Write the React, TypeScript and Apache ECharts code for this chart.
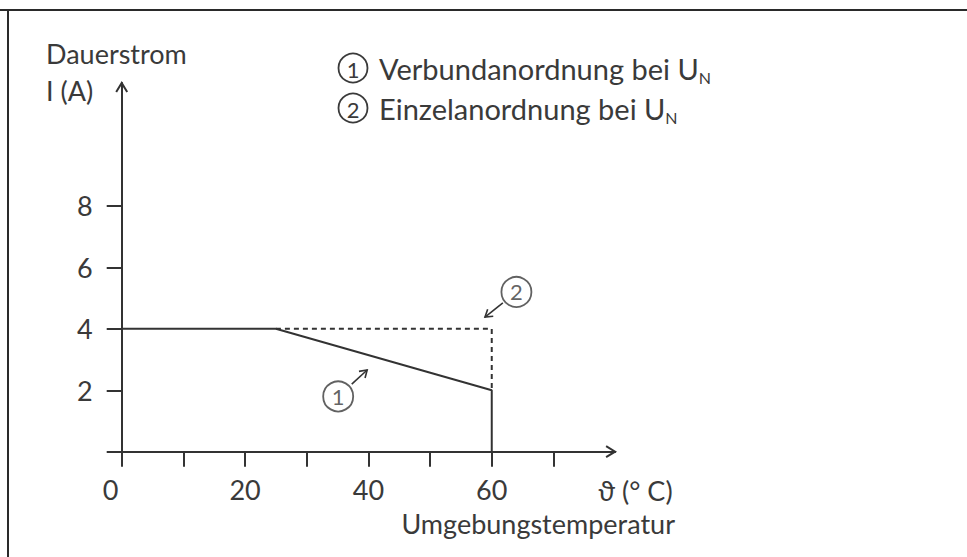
import React, { useEffect, useRef } from "react";
import * as echarts from "echarts";

// ---- data ----
const xTickValues = [0, 10, 20, 30, 40, 50, 60, 70];
const xLabelValues = [0, 20, 40, 60];
const yTickValues = [0, 2, 4, 6, 8];
const yLabelValues = [2, 4, 6, 8];
const xMax = 80;
const yMax = 12;

// (1) Verbundanordnung bei U_N  (solid)
const verbundX = [0, 25, 60, 60];
const verbundY = [4, 4, 2, 0];
// (2) Einzelanordnung bei U_N  (dashed)
const einzelX = [25, 60, 60];
const einzelY = [4, 4, 2];

// annotation markers (label, x, y) and their pointer arrows (x1, y1, x2, y2)
const markerLabels = ["1", "2"];
const markerX = [35.1, 64.0];
const markerY = [1.8, 5.2];
const arrowFrom = [[37.3, 2.2], [61.8, 4.84]];
const arrowTo = [[39.8, 2.66], [58.9, 4.38]];

const legendNames = ["Verbundanordnung bei U", "Einzelanordnung bei U"];
const legendSub = "N";

const FONT = "Lato, 'DejaVu Sans', sans-serif";
const TXT = "#3a3a3a";
const LINE = "#333333";

export default function App() {
  const ref = useRef<HTMLDivElement>(null);
  useEffect(() => {
    document.body.style.margin = "0";
    const chart = echarts.init(ref.current!, null, { renderer: "svg" });

    const arrowData = arrowFrom.map((f, i) => [f[0], f[1], arrowTo[i][0], arrowTo[i][1]]);
    const axisHeads = [
      [xMax, 0, 0],
      [0, yMax, 1],
    ];

    const openHead = (tip: number[], from: number[], len: number, spread: number) => {
      const dx = tip[0] - from[0];
      const dy = tip[1] - from[1];
      const L = Math.sqrt(dx * dx + dy * dy) || 1;
      const ux = dx / L, uy = dy / L;
      const px = -uy, py = ux;
      return [
        [tip[0] - ux * len + px * spread, tip[1] - uy * len + py * spread],
        tip,
        [tip[0] - ux * len - px * spread, tip[1] - uy * len - py * spread],
      ];
    };

    const legendGraphics = legendNames.map((name, i) => ({
      type: "group",
      x: 353,
      y: 68 + i * 40,
      children: [
        {
          type: "circle",
          shape: { cx: 0, cy: 0, r: 14.5 },
          style: { fill: "none", stroke: TXT, lineWidth: 1.8 },
        },
        {
          type: "text",
          x: 0,
          y: 1,
          style: {
            text: String(i + 1),
            font: `22px ${FONT}`,
            fill: TXT,
            align: "center",
            verticalAlign: "middle",
          },
        },
        {
          type: "text",
          x: 26,
          y: 0,
          style: {
            text: `{a|${name}}{s|${legendSub}}`,
            align: "left",
            verticalAlign: "middle",
            rich: {
              a: { fontSize: 29, fontFamily: FONT, fill: TXT, color: TXT, lineHeight: 34, verticalAlign: "middle" },
              s: { fontSize: 16, fontFamily: FONT, fill: TXT, color: TXT, lineHeight: 16, verticalAlign: "bottom" },
            },
          },
        },
      ],
    }));

    chart.setOption({
      animation: false,
      backgroundColor: "#ffffff",
      grid: {
        left: 121.7,
        top: 83,
        width: 493.4,
        height: 368.7,
        containLabel: false,
        outerBoundsMode: "none",
      },
      xAxis: {
        type: "value",
        min: 0,
        max: xMax,
        interval: 10,
        splitLine: { show: false },
        axisLine: { show: true, onZero: false, lineStyle: { color: LINE, width: 2 } },
        axisTick: { show: true, length: 15, customValues: xTickValues, lineStyle: { color: LINE, width: 2 } },
        axisLabel: {
          show: true,
          customValues: xLabelValues,
          margin: 24,
          fontSize: 27,
          fontFamily: FONT,
          color: TXT,
          formatter: (v: number) => (v === 0 ? `{z|${v}}` : `${v}`),
          rich: { z: { fontSize: 27, fontFamily: FONT, color: TXT, padding: [0, 22, 0, 0] } },
        },
      },
      yAxis: {
        type: "value",
        min: 0,
        max: yMax,
        interval: 2,
        splitLine: { show: false },
        axisLine: { show: true, onZero: false, lineStyle: { color: LINE, width: 2 } },
        axisTick: { show: true, length: 15, customValues: yTickValues, lineStyle: { color: LINE, width: 2 } },
        axisLabel: {
          show: true,
          customValues: yLabelValues,
          margin: 29,
          fontSize: 27,
          fontFamily: FONT,
          color: TXT,
        },
      },
      series: [
        {
          name: "Verbundanordnung",
          type: "line",
          data: verbundX.map((x, i) => [x, verbundY[i]]),
          showSymbol: false,
          symbol: "none",
          lineStyle: { color: LINE, width: 2 },
          z: 3,
        },
        {
          name: "Einzelanordnung",
          type: "line",
          data: einzelX.map((x, i) => [x, einzelY[i]]),
          showSymbol: false,
          symbol: "none",
          lineStyle: { color: LINE, width: 2, type: [5, 4] },
          z: 2,
        },
        {
          type: "scatter",
          data: markerX.map((x, i) => [x, markerY[i], markerLabels[i]]),
          symbol: "circle",
          symbolSize: 30,
          itemStyle: { color: "rgba(255,255,255,0)", borderColor: TXT, borderWidth: 1.8 },
          label: {
            show: true,
            position: "inside",
            formatter: (p: any) => p.value[2],
            fontSize: 22,
            fontFamily: FONT,
            color: TXT,
          },
          z: 4,
        },
        {
          type: "custom",
          data: arrowData,
          encode: { x: [0, 2], y: [1, 3] },
          renderItem: (_params: any, api: any) => {
            const a = api.coord([api.value(0), api.value(1)]);
            const b = api.coord([api.value(2), api.value(3)]);
            return {
              type: "group",
              children: [
                { type: "line", shape: { x1: a[0], y1: a[1], x2: b[0], y2: b[1] }, style: { stroke: LINE, lineWidth: 1.6 } },
                { type: "polyline", shape: { points: openHead(b, a, 7, 4.5) }, style: { stroke: LINE, lineWidth: 1.6, fill: "none" } },
              ],
            };
          },
          z: 4,
        },
        {
          type: "custom",
          data: axisHeads,
          renderItem: (_params: any, api: any) => {
            const tip = api.coord([api.value(0), api.value(1)]);
            const horiz = api.value(2) === 0;
            const from = horiz ? [tip[0] - 20, tip[1]] : [tip[0], tip[1] + 20];
            return {
              type: "polyline",
              shape: { points: openHead(tip, from, 9, 5.5) },
              style: { stroke: LINE, lineWidth: 2, fill: "none" },
            };
          },
          z: 5,
        },
      ],
      graphic: [
        { type: "line", shape: { x1: 0, y1: 10, x2: 967, y2: 10 }, style: { stroke: "#2a2a2a", lineWidth: 2 } },
        { type: "line", shape: { x1: 8, y1: 10, x2: 8, y2: 557 }, style: { stroke: "#2a2a2a", lineWidth: 2 } },
        {
          type: "text",
          x: 46,
          y: 53,
          style: { text: "Dauerstrom", font: `27px ${FONT}`, fill: TXT, verticalAlign: "middle", align: "left" },
        },
        {
          type: "text",
          x: 46,
          y: 90,
          style: { text: "I (A)", font: `27px ${FONT}`, fill: TXT, verticalAlign: "middle", align: "left" },
        },
        {
          type: "text",
          x: 598,
          y: 490,
          style: { text: "ϑ (° C)", font: `27px ${FONT}`, fill: TXT, verticalAlign: "middle", align: "left" },
        },
        {
          type: "text",
          x: 675,
          y: 523,
          style: { text: "Umgebungstemperatur", font: `27px ${FONT}`, fill: TXT, verticalAlign: "middle", align: "right" },
        },
        ...legendGraphics,
      ],
    });
    return () => chart.dispose();
  }, []);
  return <div ref={ref} style={{ width: 967, height: 557 }} />;
}
